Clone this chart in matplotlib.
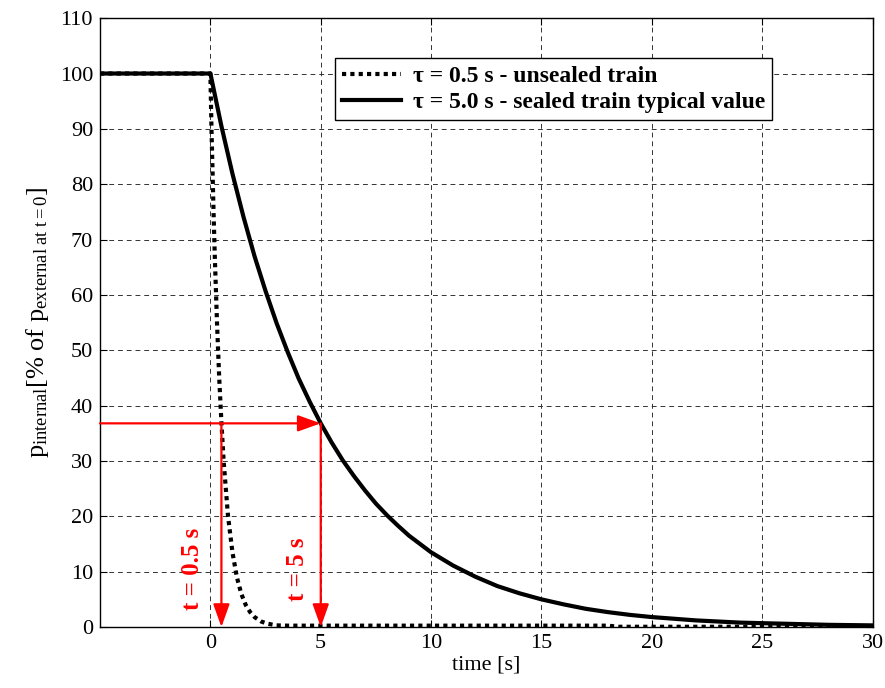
import matplotlib
matplotlib.use("Agg")
import matplotlib.pyplot as plt

plt.rcParams['font.family'] = ['Liberation Serif', 'DejaVu Serif']
plt.rcParams['mathtext.fontset'] = 'custom'
plt.rcParams['mathtext.rm'] = 'Liberation Serif'
plt.rcParams['mathtext.it'] = 'Liberation Serif:italic'
plt.rcParams['mathtext.bf'] = 'Liberation Serif:bold'

# values
t_unsealed = [-5, 0, 0.05, 0.1, 0.15, 0.2, 0.3, 0.4, 0.5, 0.6, 0.7, 0.8, 1.0, 1.2,
              1.4, 1.6, 1.8, 2.0, 2.3, 2.6, 3.0, 3.5, 18, 18.5, 30]
p_unsealed = [100, 100, 90, 82, 74, 67, 55, 45, 37, 30, 25, 20, 13.5, 9,
              6, 4, 2.7, 1.8, 1.0, 0.6, 0.3, 0.25, 0.25, 0.05, 0.05]

t_sealed = [-5, 0, 0.5, 1, 1.5, 2, 2.5, 3, 3.5, 4, 4.5, 5, 5.5, 6, 6.5, 7, 7.5, 8,
            8.5, 9, 9.5, 10, 11, 12, 13, 14, 15, 16, 17, 18, 19, 20, 22, 24, 26, 28, 30]
p_sealed = [100, 100, 90.5, 81.9, 74.1, 67.0, 60.7, 54.9, 49.7, 44.9, 40.7, 36.8,
            33.3, 30.1, 27.3, 24.7, 22.3, 20.2, 18.3, 16.5, 15.0, 13.5, 11.1, 9.1,
            7.4, 6.1, 5.0, 4.1, 3.3, 2.7, 2.2, 1.8, 1.2, 0.8, 0.6, 0.4, 0.3]

labels = ['τ = 0.5 s - unsealed train', 'τ = 5.0 s - sealed train typical value']
tau_marks = [0.5, 5]
level = 36.8
mark_texts = ['t = 0.5 s', 't = 5 s']
mark_text_x = [-0.8, 3.95]

fig = plt.figure(figsize=(8.85, 6.88), dpi=100)
ax = fig.add_axes([0.113, 0.0886, 0.873, 0.885])

ax.plot(t_unsealed, p_unsealed, color='black', lw=3, linestyle=(0, (1, 1)),
        dash_capstyle='butt', label=labels[0], zorder=3)
ax.plot(t_sealed, p_sealed, color='black', lw=3, label=labels[1], zorder=3)

red = '#ff0000'
head = '-|>,head_length=1.4,head_width=0.5'
# horizontal arrow at 1/e level
ax.annotate('', xy=(tau_marks[1], level), xytext=(-5, level),
            arrowprops=dict(arrowstyle=head, color=red, lw=1.6,
                            shrinkA=0, shrinkB=0), zorder=4)
for x, txt, tx in zip(tau_marks, mark_texts, mark_text_x):
    ax.annotate('', xy=(x, 0), xytext=(x, level),
                arrowprops=dict(arrowstyle=head, color=red, lw=1.6,
                                shrinkA=0, shrinkB=0), zorder=4)
    ax.text(tx, 10.5, txt, rotation=90, color=red, fontsize=18, fontweight='bold',
            ha='center', va='center')

ax.set_xlim(-5, 30)
ax.set_ylim(0, 110)
ax.set_xticks([0, 5, 10, 15, 20, 25, 30])
ax.set_yticks(range(0, 111, 10))
ax.grid(True, color='#333333', linestyle=(0, (5, 4)), lw=0.7)
ax.tick_params(direction='in', top=True, right=True, labelsize=16, length=5, pad=5)
for s in ax.spines.values():
    s.set_linewidth(1.0)

ax.set_xlabel('time [s]', fontsize=16, labelpad=2)
ax.set_ylabel(r'p$_{\mathrm{internal}}$[% of p$_{\mathrm{external\ at\ t=0}}$]',
              fontsize=19, labelpad=6)

leg = ax.legend(loc='upper left', bbox_to_anchor=(0.304, 0.934),
                prop={'weight': 'bold', 'size': 17}, handlelength=2.5,
                fancybox=False, framealpha=1, edgecolor='black',
                borderaxespad=0, labelspacing=0.2, borderpad=0.3,
                handletextpad=0.5)
leg.get_frame().set_linewidth(1.0)

fig.savefig('out.png', dpi=100)
